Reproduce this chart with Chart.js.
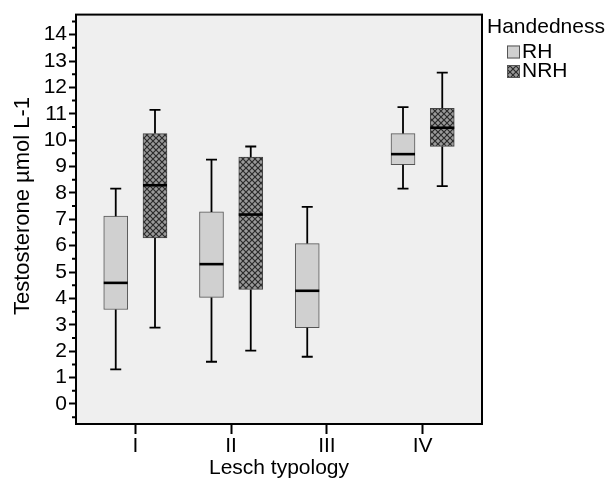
<!DOCTYPE html>
<html>
<head>
<meta charset="utf-8">
<script src="https://cdn.jsdelivr.net/npm/chart.js@4.4.1/dist/chart.umd.min.js"></script>
<style>
  html, body { margin: 0; padding: 0; background: #fff; }
  #wrap { width: 608px; height: 481px; }
</style>
</head>
<body>
<div id="wrap"><canvas id="chart" width="608" height="481"></canvas></div>
<script>
// 分组（Lesch typology）
const groups = ['I', 'II', 'III', 'IV'];

// RH：最小值 / 下四分位 / 中位数 / 上四分位 / 最大值
const rhMin = [1.31, 1.60, 1.79, 8.16];
const rhQ1  = [3.58, 4.04, 2.89, 9.07];
const rhMed = [4.59, 5.30, 4.29, 9.47];
const rhQ3  = [7.12, 7.28, 6.08, 10.25];
const rhMax = [8.16, 9.26, 7.47, 11.25];

// NRH（III 组没有数据）
const nrhMin = [2.89, 2.02, null, 8.26];
const nrhQ1  = [6.29, 4.34, null, 9.76];
const nrhMed = [8.29, 7.18, null, 10.47];
const nrhQ3  = [10.25, 9.36, null, 11.21];
const nrhMax = [11.15, 9.76, null, 12.56];

const yTicks = [0, 1, 2, 3, 4, 5, 6, 7, 8, 9, 10, 11, 12, 13, 14];

const FONT = '"Liberation Sans", Arial, Helvetica, sans-serif';
const boxShift = 0.205;  // 组内两个箱体相对刻度的偏移

// 网格交叉填充（NRH）
function makeHatch() {
    const c = document.createElement('canvas');
    c.width = 6; c.height = 6;
    const g = c.getContext('2d');
    g.fillStyle = '#9a9a9a';
    g.fillRect(0, 0, 6, 6);
    g.strokeStyle = '#2a2a2a';
    g.lineWidth = 1.2;
    g.beginPath();
    g.moveTo(0, 0); g.lineTo(6, 6);
    g.moveTo(6, 0); g.lineTo(0, 6);
    g.stroke();
    return g.createPattern(c, 'repeat');
}
const hatch = makeHatch();

function boxData(q1, q3, shift) {
    return groups.map((_, i) => q1[i] == null ? null : { x: i + 1 + shift, y: [q1[i], q3[i]] })
        .filter(d => d);
}

const whiskers = [
    { min: rhMin, med: rhMed, max: rhMax },
    { min: nrhMin, med: nrhMed, max: nrhMax }
];

// 背景、须线、中位线、外框、y 轴标题和图例
const boxParts = {
    id: 'boxParts',
    beforeDraw(chart) {
        const { ctx, chartArea: a } = chart;
        ctx.save();
        ctx.fillStyle = '#efefef';
        ctx.fillRect(a.left, a.top, a.right - a.left, a.bottom - a.top);
        ctx.restore();
    },
    afterDatasetsDraw(chart) {
        const { ctx, scales: { y } } = chart;
        ctx.save();
        whiskers.forEach((w, d) => {
            const meta = chart.getDatasetMeta(d);
            const idx = groups.map((_, i) => i).filter(i => w.med[i] != null);
            idx.forEach((gi, k) => {
                const bar = meta.data[k];
                if (!bar) return;
                const { x, width } = bar.getProps(['x', 'width'], true);
                const yMin = y.getPixelForValue(w.min[gi]);
                const yMax = y.getPixelForValue(w.max[gi]);
                const yMed = y.getPixelForValue(w.med[gi]);
                const top = Math.min(bar.y, bar.base), bottom = Math.max(bar.y, bar.base);
                ctx.strokeStyle = '#000';
                ctx.lineWidth = 1.8;
                ctx.beginPath();
                ctx.moveTo(x, top); ctx.lineTo(x, yMax);
                ctx.moveTo(x, bottom); ctx.lineTo(x, yMin);
                ctx.moveTo(x - 5.5, yMax); ctx.lineTo(x + 5.5, yMax);
                ctx.moveTo(x - 5.5, yMin); ctx.lineTo(x + 5.5, yMin);
                ctx.stroke();
                ctx.lineWidth = 2.6;
                ctx.beginPath();
                ctx.moveTo(x - width / 2, yMed); ctx.lineTo(x + width / 2, yMed);
                ctx.stroke();
            });
        });
        ctx.restore();
    },
    afterDraw(chart) {
        const { ctx, chartArea: a, scales: { y } } = chart;
        ctx.save();
        // 外框
        ctx.strokeStyle = '#000';
        ctx.lineWidth = 2;
        ctx.strokeRect(a.left, a.top, a.right - a.left, a.bottom - a.top);
        // 次刻度
        ctx.beginPath();
        for (let v = -0.5; v <= 14.5; v += 1) {
            const py = y.getPixelForValue(v);
            ctx.moveTo(a.left - 4, py); ctx.lineTo(a.left, py);
        }
        ctx.stroke();
        // y 轴标题（略高于绘图区中心）
        ctx.fillStyle = '#000';
        ctx.font = '22px ' + FONT;
        ctx.textAlign = 'center';
        ctx.textBaseline = 'middle';
        ctx.translate(23, 206);
        ctx.rotate(-Math.PI / 2);
        ctx.fillText('Testosterone µmol L-1', 0, 0);
        ctx.setTransform(1, 0, 0, 1, 0, 0);
        // 图例
        ctx.textAlign = 'left';
        ctx.font = '21px ' + FONT;
        ctx.fillText('Handedness', 487, 27);
        chart.data.datasets.forEach((ds, i) => {
            const ly = 52 + i * 19.5;
            ctx.fillStyle = ds.backgroundColor;
            ctx.fillRect(507, ly - 6.5, 13, 13);
            ctx.strokeStyle = '#555';
            ctx.lineWidth = 1;
            ctx.strokeRect(507.5, ly - 6, 12, 12);
            ctx.fillStyle = '#000';
            ctx.fillText(ds.label, 522, ly);
        });
        ctx.restore();
    }
};

new Chart(document.getElementById('chart'), {
    type: 'bar',
    data: {
        datasets: [{
            label: 'RH',
            data: boxData(rhQ1, rhQ3, -boxShift),
            backgroundColor: '#d0d0d0',
            borderColor: '#555',
            borderWidth: 1,
            borderSkipped: false,
            barThickness: 24,
            grouped: false
        }, {
            label: 'NRH',
            data: boxData(nrhQ1, nrhQ3, boxShift),
            backgroundColor: hatch,
            borderColor: '#444',
            borderWidth: 1,
            borderSkipped: false,
            barThickness: 24,
            grouped: false
        }]
    },
    options: {
        responsive: false,
        animation: false,
        layout: { padding: { left: 0, top: 14, right: 126, bottom: 0 } },
        plugins: {
            legend: { display: false },
            tooltip: { enabled: false }
        },
        scales: {
            x: {
                type: 'linear',
                min: 0.38,
                max: 4.62,
                offset: false,
                afterFit: s => { s.height = 57; },
                afterBuildTicks: s => { s.ticks = groups.map((_, i) => ({ value: i + 1 })); },
                ticks: {
                    color: '#000',
                    font: { family: FONT, size: 21 },
                    padding: 0,
                    callback: v => groups[v - 1]
                },
                grid: { offset: false, drawOnChartArea: false, tickLength: 10, tickWidth: 2, tickColor: '#000' },
                border: { display: true, color: '#000', width: 2 },
                title: {
                    display: true,
                    text: 'Lesch typology',
                    color: '#000',
                    font: { family: FONT, size: 21 },
                    padding: { top: 0, bottom: 0 }
                }
            },
            y: {
                min: -0.76,
                max: 14.76,
                afterFit: s => { s.width = 76; },
                afterBuildTicks: s => { s.ticks = yTicks.map(v => ({ value: v })); },
                ticks: {
                    color: '#000',
                    font: { family: FONT, size: 21 },
                    padding: 2
                },
                grid: { drawOnChartArea: false, tickLength: 7, tickWidth: 2, tickColor: '#000' },
                border: { display: true, color: '#000', width: 2 }
            }
        }
    },
    plugins: [boxParts]
});
</script>
</body>
</html>
